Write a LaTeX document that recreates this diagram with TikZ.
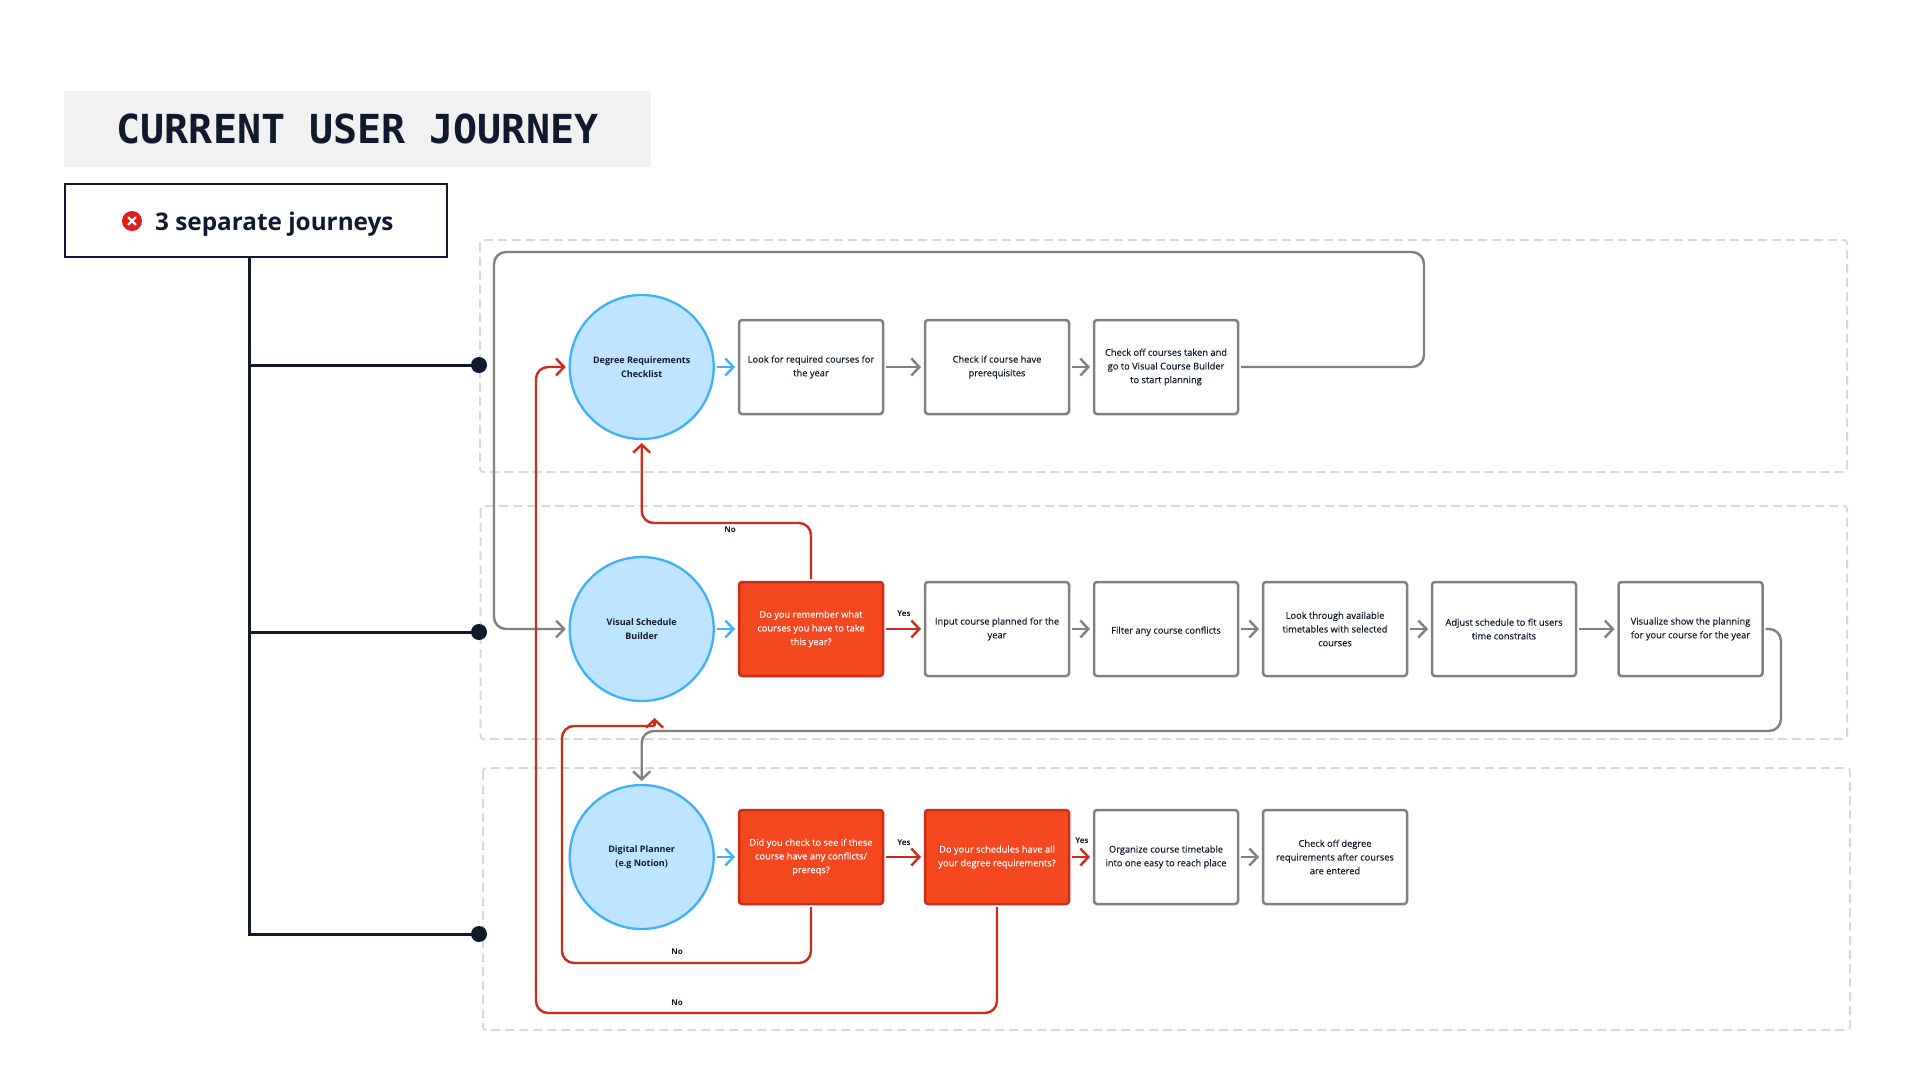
\documentclass[tikz,border=0pt]{standalone}
\usepackage{fontspec}
\usetikzlibrary{arrows.meta}
\setmainfont{Open Sans}
\newfontfamily\titlefont{DejaVu Sans Mono}
\definecolor{ink}{HTML}{111A2C}
\definecolor{panelgrey}{HTML}{D9D9D9}
\definecolor{titlebg}{HTML}{F1F1F1}
\definecolor{linegrey}{HTML}{808080}
\definecolor{skyline}{HTML}{3FB0FA}
\definecolor{skyfill}{HTML}{BFE4FF}
\definecolor{hotfill}{HTML}{F2471F}
\definecolor{hotline}{HTML}{CC2D18}
\definecolor{xred}{HTML}{E21B1B}
\tikzset{
  x=1pt,y=-1pt,
  panel/.style={draw=panelgrey,line width=2pt,dash pattern=on 9pt off 5pt,rounded corners=3pt},
  hub/.style={circle,draw=skyline,fill=skyfill,line width=2.3pt,minimum size=144pt,inner sep=0pt,outer sep=0pt,align=center,font=\fontsize{9}{13.7}\selectfont\bfseries,text=ink,execute at begin node={\rule{0pt}{11.5pt}}},
  plain/.style={rectangle,rounded corners=3pt,draw=linegrey,fill=white,line width=2.5pt,minimum width=144pt,minimum height=94pt,inner sep=0pt,outer sep=0pt,align=center,font=\fontsize{9.3}{13.7}\selectfont\addfontfeature{FakeBold=0.2},text=ink,execute at begin node={\rule{0pt}{11.5pt}}},
  hot/.style={plain,draw=hotline,fill=hotfill,text=white},
  conn/.style={line width=2.4pt,rounded corners=12pt,-{Straight Barb[length=8pt,width=17pt,line width=2.4pt]},shorten <=3pt,shorten >=4pt},
  gconn/.style={conn,draw=linegrey},
  rconn/.style={conn,draw=hotline},
  bconn/.style={conn,draw=skyline},
  tree/.style={draw=ink,line width=3pt},
  dot/.style={circle,fill=ink,minimum size=16pt,inner sep=0pt,outer sep=0pt},
  tag/.style={font=\fontsize{8}{10}\selectfont\bfseries,text=ink,inner sep=0pt},
}
\begin{document}
\begin{tikzpicture}
\useasboundingbox[fill=white] (0,0) rectangle (1920,1080);
% panels
\draw[panel] (480,240) rectangle (1847,472);
\draw[panel] (480.5,506) rectangle (1847,739);
\draw[panel] (483,768) rectangle (1850,1030);
% header
\node[fill=titlebg,minimum width=587pt,minimum height=76pt,inner sep=0pt,text=ink,font=\titlefont\fontsize{40}{44}\selectfont\bfseries] (title) at (357.5,129) {CURRENT USER JOURNEY};
\node[draw=ink,fill=white,line width=2.2pt,minimum width=382pt,minimum height=73pt,inner sep=0pt,outer sep=0pt] (summary) at (256.3,220.8) {};
\node[font=\fontsize{24.3}{28}\selectfont\bfseries,text=ink,anchor=west,inner sep=0pt] (summarytext) at (155,224) {3 separate journeys};
\node[circle,fill=xred,minimum size=20pt,inner sep=0pt] (xmark) at (132,221) {};
\draw[white,line width=2.2pt,line cap=round] ([shift={(-3.6,-3.6)}]xmark.center) -- ([shift={(3.6,3.6)}]xmark.center);
\draw[white,line width=2.2pt,line cap=round] ([shift={(-3.6,3.6)}]xmark.center) -- ([shift={(3.6,-3.6)}]xmark.center);
% hubs
\node[hub] (h1) at (641.7,367) {Degree Requirements\\Checklist};
\node[hub] (h2) at (641.7,629) {Visual Schedule\\Builder};
\node[hub] (h3) at (641.7,857) {Digital Planner\\(e.g Notion)};
% row 1
\node[plain] (a1) at (811,367) {Look for required courses for\\the year};
\node[plain] (b1) at (997,367) {Check if course have\\prerequisites};
\node[plain] (c1) at (1166,367) {Check off courses taken and\\go to Visual Course Builder\\to start planning};
% row 2
\node[hot]   (a2) at (811,629) {Do you remember what\\courses you have to take\\this year?};
\node[plain] (b2) at (997,629) {Input course planned for the\\year};
\node[plain] (c2) at (1166,629) {Filter any course conflicts};
\node[plain] (d2) at (1335,629) {Look through available\\timetables with selected\\courses};
\node[plain] (e2) at (1504,629) {Adjust schedule to fit users\\time constraits};
\node[plain] (f2) at (1690.5,629) {Visualize show the planning\\for your course for the year};
% row 3
\node[hot]   (a3) at (811,857) {Did you check to see if these\\course have any conflicts/\\prereqs?};
\node[hot]   (b3) at (997,857) {Do your schedules have all\\your degree requirements?};
\node[plain] (c3) at (1166,857) {Organize course timetable\\into one easy to reach place};
\node[plain] (d3) at (1335,857) {Check off degree\\requirements after courses\\are entered};
% tree
\node[dot] (d1) at (479,365) {};
\node[dot] (d22) at (479,632) {};
\node[dot] (d33) at (479,934) {};
\coordinate (trunk) at (249,258);
\draw[tree] (trunk) -- (249,934) -- (d33.center);
\draw[tree] (249,365) -- (d1.center);
\draw[tree] (249,632) -- (d22.center);
% short arrows
\draw[bconn] (h1.east) -- (a1.west);
\draw[bconn] (h2.east) -- (a2.west);
\draw[bconn] (h3.east) -- (a3.west);
\draw[gconn] (a1.east) -- (b1.west);
\draw[gconn] (b1.east) -- (c1.west);
\draw[rconn] (a2.east) -- (b2.west);
\draw[gconn] (b2.east) -- (c2.west);
\draw[gconn] (c2.east) -- (d2.west);
\draw[gconn] (d2.east) -- (e2.west);
\draw[gconn] (e2.east) -- (f2.west);
\draw[rconn] (a3.east) -- (b3.west);
\draw[rconn] (b3.east) -- (c3.west);
\draw[gconn] (c3.east) -- (d3.west);
% loops
\draw[gconn] (c1.east) -- (1424,367) -- (1424,252) -- (494,252) -- (494,629) -- (h2.west);
\draw[gconn] (f2.east) -- (1781,629) -- (1781,731) -- (641.7,731) -- (h3.north);
\draw[rconn] (a2.north) -- (811,523) -- (641.7,523) -- (h1.south);
\draw[rconn] (b3.south) -- (997,1013) -- (536,1013) -- (536,367) -- (h1.west);
\coordinate (stubbase) at (654.6,726);
\coordinate (stubtip) at (654.6,718);
\draw[rconn,-,shorten >=0pt] (a3.south) -- (811,963) -- (562,963) -- (562,726) -- (stubbase);
\draw[rconn,shorten <=0pt,shorten >=0pt,rounded corners=0pt] (stubbase) -- (stubtip);
% labels
\node[tag] (no1) at (730,530) {No};
\node[tag] (yes1) at (904,614) {Yes};
\node[tag] (yes2) at (904,843) {Yes};
\node[tag] (yes3) at (1082,841) {Yes};
\node[tag] (no2) at (677,952) {No};
\node[tag] (no3) at (677,1003) {No};
\end{tikzpicture}
\end{document}
